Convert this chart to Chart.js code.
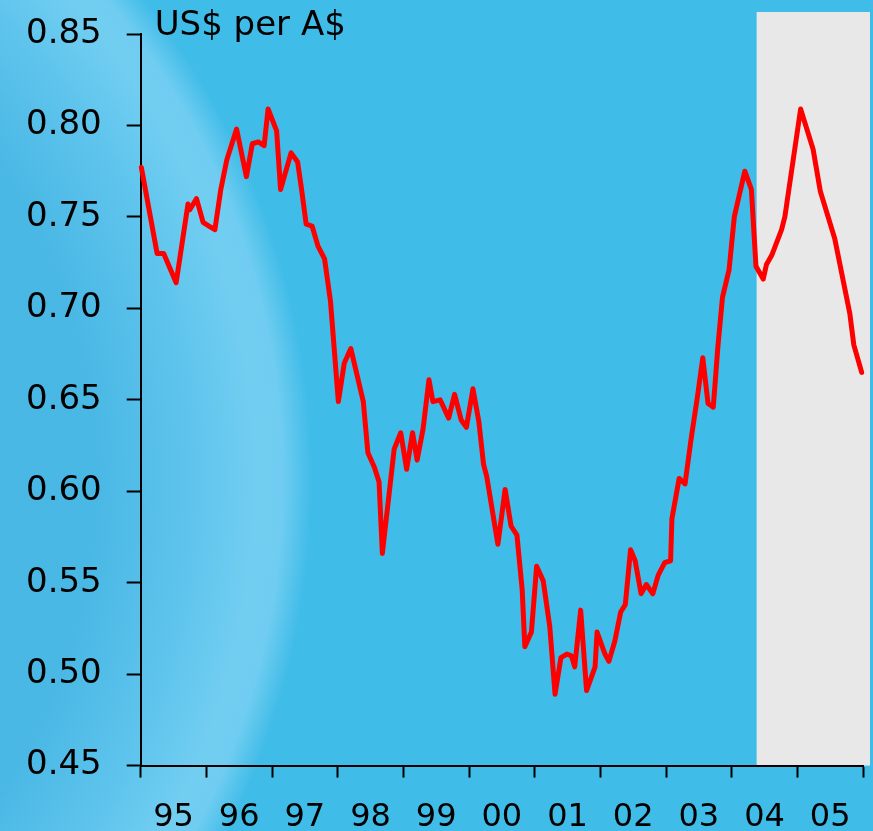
<!DOCTYPE html>
<html>
<head>
<meta charset="utf-8">
<script src="https://cdn.jsdelivr.net/npm/chart.js@4.4.1/dist/chart.umd.min.js"></script>
<style>
html, body { margin: 0; padding: 0; width: 873px; height: 831px; overflow: hidden; }
body {
  background: radial-gradient(circle 763px at -463px 480px,
    #47B5E2 0px, #4AB8E5 560px, #60C5ED 660px, #72CEF1 720px, #70CDF1 745px, #40BCE8 775px);
}
#wrap { position: relative; width: 873px; height: 861px; }
</style>
</head>
<body>
<div id="wrap"><canvas id="c"></canvas></div>
<script>
// ---- data ----
const years = [1995, 1996, 1997, 1998, 1999, 2000, 2001, 2002, 2003, 2004, 2005];
const yearLabels = ['95', '96', '97', '98', '99', '00', '01', '02', '03', '04', '05'];
const yTickValues = [0.45, 0.50, 0.55, 0.60, 0.65, 0.70, 0.75, 0.80, 0.85];
const unitLabel = 'US$ per A$';
const shadeStart = 2004.38;

const dates = [
  1995.01, 1995.25, 1995.35, 1995.54, 1995.72, 1995.75, 1995.85, 1995.95,
  1996.04, 1996.13, 1996.22, 1996.31, 1996.46, 1996.61, 1996.70, 1996.79, 1996.88, 1996.94,
  1997.07, 1997.13, 1997.29, 1997.39, 1997.45, 1997.52, 1997.61, 1997.70, 1997.80, 1997.89,
  1998.01, 1998.10, 1998.20, 1998.39, 1998.46, 1998.56, 1998.63, 1998.68, 1998.86, 1998.96,
  1999.05, 1999.14, 1999.21, 1999.30, 1999.39, 1999.45, 1999.56, 1999.69, 1999.78, 1999.88, 1999.96,
  2000.06, 2000.15, 2000.22, 2000.27, 2000.44, 2000.55, 2000.64, 2000.73, 2000.81, 2000.85, 2000.95,
  2001.03, 2001.13, 2001.23, 2001.31, 2001.40, 2001.49, 2001.56, 2001.61, 2001.70, 2001.79, 2001.92, 2001.95,
  2002.07, 2002.13, 2002.22, 2002.31, 2002.38, 2002.46, 2002.53, 2002.62, 2002.70, 2002.80, 2002.88, 2002.98,
  2003.07, 2003.09, 2003.20, 2003.29, 2003.38, 2003.48, 2003.56, 2003.64, 2003.72, 2003.79, 2003.86, 2003.96,
  2004.04, 2004.11, 2004.20, 2004.30, 2004.37, 2004.48, 2004.53, 2004.61, 2004.76, 2004.81,
  2005.05, 2005.24, 2005.35, 2005.57, 2005.80, 2005.86, 2005.98
];
const rates = [
  0.777, 0.730, 0.730, 0.714, 0.757, 0.754, 0.760, 0.747,
  0.745, 0.743, 0.765, 0.781, 0.798, 0.772, 0.790, 0.791, 0.789, 0.809,
  0.797, 0.765, 0.785, 0.780, 0.765, 0.746, 0.745, 0.734, 0.727, 0.704,
  0.649, 0.670, 0.678, 0.649, 0.621, 0.613, 0.605, 0.566, 0.623, 0.632,
  0.612, 0.632, 0.617, 0.634, 0.661, 0.649, 0.650, 0.640, 0.653, 0.639, 0.635,
  0.656, 0.638, 0.615, 0.608, 0.571, 0.601, 0.581, 0.576, 0.546, 0.515, 0.523,
  0.559, 0.551, 0.526, 0.489, 0.509, 0.511, 0.510, 0.504, 0.535, 0.491, 0.504, 0.523,
  0.511, 0.507, 0.518, 0.534, 0.538, 0.568, 0.562, 0.544, 0.549, 0.544, 0.554, 0.561,
  0.562, 0.585, 0.607, 0.604, 0.628, 0.652, 0.673, 0.648, 0.646, 0.679, 0.706, 0.721,
  0.750, 0.761, 0.775, 0.765, 0.723, 0.716, 0.724, 0.729, 0.743, 0.750,
  0.809, 0.787, 0.764, 0.738, 0.697, 0.680, 0.665
];

// ---- chart ----
const FONT = 'DejaVu Sans';

const shadePlugin = {
  id: 'shade',
  beforeDraw(chart) {
    const { ctx, chartArea, scales } = chart;
    const x0 = scales.x.getPixelForValue(shadeStart);
    const top = chartArea.top - 22;
    ctx.save();
    ctx.fillStyle = '#E8E8E8';
    ctx.fillRect(x0, top, chartArea.right + 7 - x0, chartArea.bottom - top);
    ctx.fillStyle = '#000';
    ctx.font = '34px "' + FONT + '"';
    ctx.textAlign = 'left';
    ctx.textBaseline = 'alphabetic';
    ctx.fillText(unitLabel, chartArea.left + 14, 35);
    ctx.restore();
  }
};

new Chart(document.getElementById('c'), {
  type: 'line',
  data: {
    datasets: [{
      data: dates.map((d, i) => ({ x: d, y: rates[i] })),
      borderColor: '#FF0000',
      borderWidth: 5,
      pointRadius: 0,
      tension: 0,
      borderJoinStyle: 'round',
      borderCapStyle: 'round',
      clip: false
    }]
  },
  options: {
    responsive: true,
    maintainAspectRatio: false,
    animation: false,
    devicePixelRatio: 1,
    layout: { padding: { top: 34, right: 10, left: 1, bottom: 3 } },
    plugins: { legend: { display: false }, tooltip: { enabled: false } },
    scales: {
      x: {
        type: 'linear',
        min: years[0],
        max: years[years.length - 1] + 1,
        afterBuildTicks(axis) {
          const t = [];
          years.forEach(y => { t.push({ value: y }); t.push({ value: y + 0.5 }); });
          t.push({ value: years[years.length - 1] + 1 });
          axis.ticks = t;
        },
        ticks: {
          autoSkip: false,
          maxRotation: 0,
          minRotation: 0,
          padding: 9,
          color: '#000',
          font: { family: FONT, size: 32, lineHeight: 1.95 },
          callback(v) {
            const i = years.indexOf(Math.floor(v));
            return (Math.abs(v % 1 - 0.5) < 1e-6 && i >= 0) ? yearLabels[i] : '';
          }
        },
        grid: {
          drawOnChartArea: false,
          tickLength: 12,
          tickWidth: 2,
          tickColor: (c) => (c.tick && Math.abs(c.tick.value % 1) < 1e-6) ? '#000' : 'rgba(0,0,0,0)'
        },
        border: { color: '#000', width: 2 }
      },
      y: {
        min: yTickValues[0],
        max: yTickValues[yTickValues.length - 1],
        afterBuildTicks(axis) { axis.ticks = yTickValues.map(v => ({ value: v })); },
        ticks: {
          padding: 25,
          color: '#000',
          font: { family: FONT, size: 34, lineHeight: 0.2 },
          callback: (v) => Number(v).toFixed(2)
        },
        grid: { drawOnChartArea: false, tickLength: 14, tickWidth: 2, tickColor: '#000' },
        border: { color: '#000', width: 2 }
      }
    }
  },
  plugins: [shadePlugin]
});
</script>
</body>
</html>
